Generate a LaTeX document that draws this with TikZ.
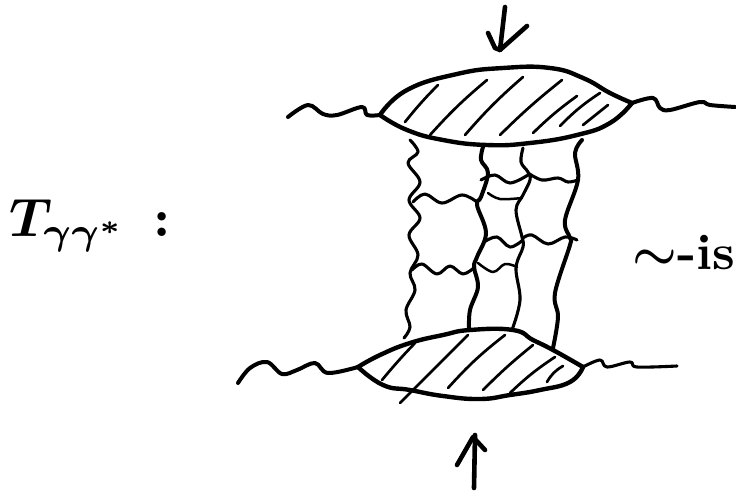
\documentclass[tikz,border=0pt]{standalone}
\usepackage{amsmath,amssymb}
\usepackage{tikz}
\usetikzlibrary{calc,positioning}
\definecolor{tinta}{HTML}{000000}
\tikzset{
  contorno/.style={draw=tinta,line width=4.4pt,line join=round,line cap=round},
  rayado/.style={draw=tinta,line width=2.7pt,line cap=round},
  onda/.style={draw=tinta,line width=3.1pt,line cap=round,line join=round},
  ondafina/.style={draw=tinta,line width=2.5pt,line cap=round,line join=round},
  ondagruesa/.style={draw=tinta,line width=4pt,line cap=round,line join=round},
  flecha/.style={draw=tinta,line width=4.6pt,line cap=round,line join=round},
  etiqueta/.style={inner sep=0pt,text=tinta,scale=5.4},
  etiquetab/.style={inner sep=0pt,text=tinta,scale=5},
}

\begin{document}
\begin{tikzpicture}[x=1pt,y=-1pt]
  \useasboundingbox (0,0) rectangle (736,495);
  % extremos de las dos manchas
  \coordinate (izqarriba) at (380,115); \coordinate (derarriba) at (632,103);
  \coordinate (izqabajo) at (358,367); \coordinate (derabajo) at (583,367);
  % mancha superior
  \draw[contorno] plot[smooth,tension=0.8] coordinates {(izqarriba) (407,90) (457,74) (503,68) (550,68) (583,78) (610,93) (derarriba)};
  \draw[contorno] plot[smooth,tension=0.8] coordinates {(derarriba) (610,123) (577,135) (530,143) (487,145) (443,140) (407,130) (izqarriba)};
  \draw[rayado] (405,122) to[bend left=3] (438,85);
  \draw[rayado] (430,135) to[bend left=4] (487,80);
  \draw[rayado] (465,135) to[bend left=4] (523,77);
  \draw[rayado] (500,135) to[bend left=3] (562,80);
  \draw[rayado] (533,133) to[bend left=4] (577,96);
  \draw[rayado] (560,126) to[bend left=6] (600,93);
  \draw[rayado] (583,125) to (608,105);
  % mancha inferior
  \draw[contorno] plot[smooth,tension=0.8] coordinates {(izqabajo) (380,355) (410,343) (443,335) (470,330) (513,330) (533,340) (553,350) (derabajo)};
  \draw[contorno] plot[smooth,tension=0.8] coordinates {(derabajo) (570,382) (540,390) (510,395) (480,399) (443,396) (410,390) (383,385) (izqabajo)};
  \draw[rayado] (382,380) to[bend left=2] (415,343);
  \draw[rayado] (400,403) to (468,335);
  \draw[rayado] (448,388) to[bend left=5] (505,335);
  \draw[rayado] (483,390) to[bend left=3] (533,345);
  \draw[rayado] (510,393) to[bend left=5] (555,357);
  \draw[rayado] (547,382) to[bend left=15] (563,366);
  % lineas externas
  \draw[ondagruesa] plot[smooth,tension=0.6] coordinates {(288,117) (308,105) (323,114) (337,115) (362,107) (367,115) (izqarriba)};
  \draw[ondagruesa] plot[smooth,tension=0.6] coordinates {(derarriba) (653,98) (660,108) (670,110) (700,102) (710,105) (735,107)};
  \draw[ondagruesa] plot[smooth,tension=0.6] coordinates {(238,383) (250,368) (267,362) (282,374) (297,370) (315,363) (328,373) (izqabajo)};
  \draw[onda] plot[smooth,tension=0.6] coordinates {(derabajo) (600,360) (607,367) (630,362) (637,367) (677,366)};
  % lineas verticales
  \draw[onda] plot[smooth,tension=0.6] coordinates {(410,140) (418,152) (408,163) (420,182) (409,200) (420,218) (409,235) (418,255) (410,273) (415,290) (406,310) (410,327) (404,338)};
  \draw[ondagruesa] plot[smooth,tension=0.6] coordinates {(483,147) (481,160) (488,173) (481,197) (477,205) (486,233) (477,257) (474,267) (478,287) (470,310) (469,330)};
  \draw[onda] plot[smooth,tension=0.6] coordinates {(523,148) (521,162) (528,172) (530,180) (523,195) (516,210) (522,237) (523,247) (516,268) (520,300) (512,330)};
  \draw[ondagruesa] plot[smooth,tension=0.6] coordinates {(582,140) (575,153) (578,180) (565,220) (570,238) (570,245) (555,293) (558,317) (553,348)};
  % peldanos
  \draw[onda] plot[smooth,tension=0.6] coordinates {(413,202) (425,194) (442,203) (462,195) (477,202)};
  \draw[onda] plot[smooth,tension=0.6] coordinates {(412,270) (422,264) (437,274) (450,266) (463,274) (475,267)};
  \draw[onda] plot[smooth,tension=0.6] coordinates {(481,180) (495,175) (510,183) (528,175)};
  \draw[ondafina] plot[smooth,tension=0.6] coordinates {(488,193) (500,199) (522,198)};
  \draw[onda] plot[smooth,tension=0.6] coordinates {(484,242) (497,237) (510,247) (523,240)};
  \draw[ondafina] plot[smooth,tension=0.6] coordinates {(478,263) (493,272) (505,264) (517,267)};
  \draw[onda] plot[smooth,tension=0.6] coordinates {(528,173) (542,180) (558,178) (568,182) (578,180)};
  \draw[onda] plot[smooth,tension=0.6] coordinates {(523,238) (532,235) (548,244) (565,237) (577,240)};
  % flechas
  \draw[flecha] (505,7) -- (500,50);
  \draw[flecha] (488,33) -- (495,48) -- (500,50) -- (527,26);
  \draw[flecha] (475,435) -- (474,488);
  \draw[flecha] (457,465) -- (473,437) -- (485,450);
  % textos
  \node[etiqueta,anchor=west] (gamma) at (8,226) {$\boldsymbol{T_{\gamma\gamma^*}\,:}$};
  \node[etiquetab] (simil) at (684,253) {$\boldsymbol{\sim}$\textbf{-is}};
\end{tikzpicture}
\end{document}
